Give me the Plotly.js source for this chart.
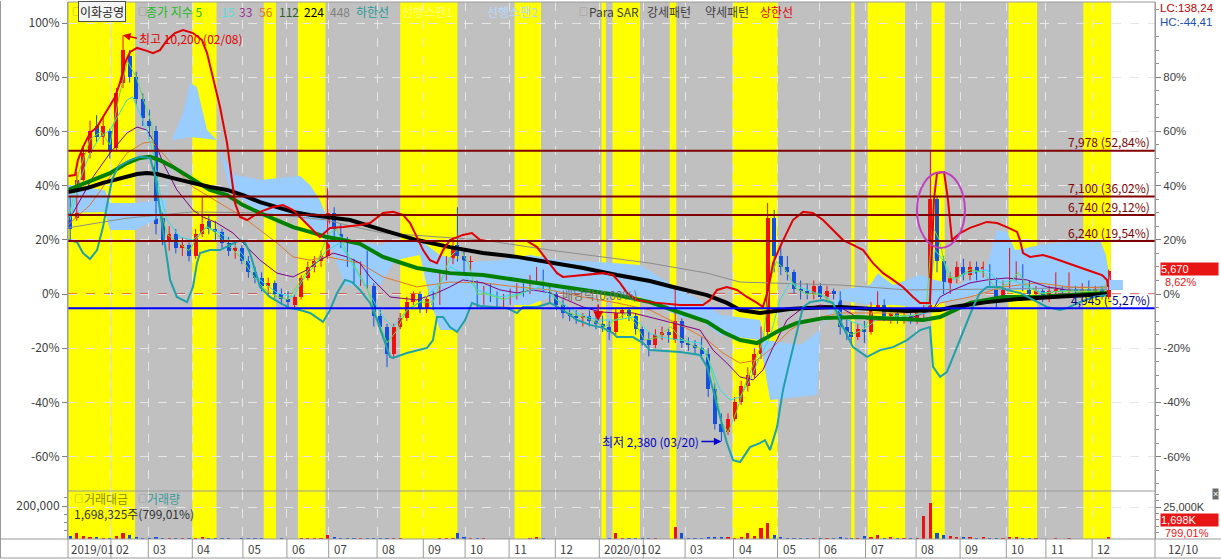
<!DOCTYPE html>
<html><head><meta charset="utf-8">
<script src="https://cdn.plot.ly/plotly-3.0.1.min.js"></script>
<style>html,body{margin:0;padding:0;background:#fff;}#chart{width:1221px;height:559px;}</style>
</head><body><div id="chart"></div>
<script>
// ================= DATA (x = trading-day index, y = % vs base 5,220) =================
const candleDay = [1,4,7,10,13,16,19,22,25,28,31,34,37,40,43,46,49,52,55,58,61,64,67,70,73,76,79,82,85,88,91,94,97,100,103,106,109,112,115,118,121,124,127,130,133,136,139,142,145,148,151,154,157,160,163,166,169,172,175,
177,180,183,186,189,192,195,198,201,204,207,210,213,216,219,222,225,228,231,234,237,240,243,246,249,252,255,258,261,264,267,270,273,276,279,282,285,288,291,294,297,300,303,306,309,312,315,318,321,324,327,330,333,336,339,342,345,348,351,354,
356,359,362,365,368,371,374,377,380,383,386,389,392,395,398,401,404,407,410,413,416,419,422,425,428,431,434,437,440,443,446,449,452,455,458,461,464,467,470,473];
const candleOpen = [33,28,42,52,62,58,60,54,78,88, 80,72,64,60,28,20,22,17,18,14, 22,27,24,23,19,16,17,12,8,6, 3,4,0,-2,-4,-1,6,10,12,14, 30,22,20,12,7,9,3,-8,-12,-22, -12,-9,-3,0,-5,-2,-3,7,12,18, 14,10,4,-3,2,-1,-3,-1,1,2, 1,6,7,3,0,-4,-7,-8,-9,-8, -10,-11,-12,-14,-7,-6,-8,-13,-17,-19, -15,-14,-17,-10,-18,-19,-20,-22,-35,-48, -51,-46,-40,-34,-30,-22,-14,28,14,10, 8,2,1,0,3,-1,1,0,-12,-14, -16,-13,-14,-5,-3,-8,-7,-9,-8,-9, -7,-5,35,12,3,6,10,7,10,7, 10,5,-1,3,6,10,3,0,1,-1, 1,2,1,2,1,2,1,2,-1];
const candleHigh = [36,45,55,64,66,65,61,76,95.5,90, 82,74,68,62,30,25,24,21,19,24, 36,29,27,24,21,19,18,14,10,8, 6,5,2,1,0,7,12,14,16,39, 32,26,21,13,12,16,4,-6,-11,-11, -7,-1,1,1,-1,1,8,14,21,32, 16,14,5,3,4,1,0,2,4,4, 7,10,9,4,1,-2,-5,-6,-7,-6, -7,-8,-10,-5,-5,-5,-7,-12,-14,-13, -12,-13,3,-9,-16,-17,-16,-20,-33,-44, -44,-38,-32,-27,-20,-12,33.6,31,18,14, 9,5,4,5,4,3,2,1,-9,-10, -11,-10,-3,1,-2,-5,-6,-6,-6,-6, -4,52.84,36,14,8,12,13,12,12,12, 11,6,5,17,12,11,5,3,2,3, 8,3,8,3,4,5,3,3,9];
const candleLow = [20,27,40,50,56,55,50,53,76,78, 70,62,58,22,18,16,15,14,12,13, 21,22,20,17,14,13,11,6,4,1, -1,-2,-4,-5,-5,-2,5,8,10,13, 20,17,10,4,3,2,-12,-14,-27,-24, -13,-10,-4,-7,-7,-6,-4,5,11,12, 7,8,-5,-4,-3,-5,-5,-4,-2,-1, 0,4,1,-3,-6,-9,-10,-11,-12,-12, -13,-14,-17,-15,-9,-10,-15,-19,-23,-20, -17,-18,-18,-20,-21,-22,-24,-38,-50,-54.4, -52,-47,-41,-36,-31,-24,-16,8,7,5, 0,-2,-2,-2,-2,-2,-2,-15,-17,-18, -17,-18,-15,-6,-10,-11,-11,-11,-11,-11, -9,-6,8,0,0,4,5,5,5,6, 3,-5,-2,2,5,1,-2,-3,-3,-3, 0,-1,0,-1,0,0,-1,-2,-2];
const candleClose = [24,42,52,60,58,62,53,74,90,80, 72,65,62,26,20,22,17,18,14,22, 26,24,23,19,16,17,12,8,6,3, 4,0,-2,-3,-1,6,10,12,14,30, 22,20,12,7,9,4,-8,-12,-22,-12, -9,-3,0,-5,-2,-4,7,12,17,14, 10,12,-3,2,-1,-3,-1,1,2,1, 6,7,3,0,-4,-7,-8,-9,-8,-10, -11,-12,-14,-7,-6,-8,-13,-17,-19,-15, -14,-15,-10,-18,-19,-20,-22,-35,-48,-51, -46,-40,-34,-30,-22,-15,28,14,10,8, 2,1,0,3,-1,1,0,-12,-14,-16, -13,-14,-5,-3,-8,-7,-9,-8,-9,-7, -5,35,12,3,6,10,7,10,7,10, 5,-1,3,6,10,3,0,1,-1,1, 2,1,2,1,2,1,2,-1,8.62];
const volumeK = [2500,4700,2000,1500,1200,900,1000,2500,4500,3000, 1500,1000,800,1800,700,600,500,500,400,600, 1700,500,400,400,400,300,400,500,400,400, 300,300,400,300,300,600,500,400,500,3000, 1500,700,500,400,400,1000,800,500,900,600, 400,300,300,300,300,300,600,700,900,5000, 1500,800,900,400,300,300,300,300,300,300, 600,1500,500,300,300,300,300,300,300,300, 300,300,400,4500,1000,400,500,500,600,400, 300,300,9400,4500,800,500,500,1200,1500,1500, 1200,1000,1500,4700,2000,8600,12500,3000,1500,1000, 800,600,500,1000,500,400,400,1200,800,600, 500,2000,1500,3500,800,1500,500,400,400,500, 18000,28000,4700,3000,2000,1500,1800,1500,1000,1200, 800,800,600,1500,1200,600,500,400,300,300, 600,300,500,300,300,300,300,300,1698];

const upperDay = [0,3.2,4.5,6.8,10,13.2,15.9,19.1,21.4,23.6,25.9,28.2,31.4,35.9,38.6,41.8,45,48.6,52.3,56.8,60.9,63.2,65.9,69.1,72.3,74.5,75.9,78.2,81.4,87.3,93.2,97.7,102.3,106.8,111.4,114.5,119.1,125,132.7,137.3,143.2,147.7,152.3,155.5,158.6,161.4,164.5,167.7,170.5,173.6,179.5,183.6,187.3,190.5,208.6,213.2,217.7,222.3,225,234.1,243.2,247.7,250.9,254.1,258.6,264.5,278.2,288.6,291.8,295,299.5,304.1,308.6,313.2,315.9,318.2,320.5,323.6,326.8,329.5,334.1,338.6,343.2,347.7,352.3,356.8,361.4,365.9,370.5,375,379.5,384.1,387.3,391.8,393.6,395,398.2,400,401.8,405.5,410,417.7,422.3,426.8,431.4,432.7,434.1,437.3,443.2,447.7,454.1,460,465.9,470,472.3,472.7];
const upperPct = [43.5,43.9,49.4,54.2,59.4,61.6,65.3,69.7,72.7,77.9,85.2,89.3,90.8,89.7,88.9,90,93.7,96.3,97.4,96.3,93.7,88.9,80.1,69,55.7,43.2,33.6,28.4,27.3,30.3,32.1,32.8,31,27.3,23.6,21,24.4,24.7,25.5,26.2,29.9,30.3,29.2,26.2,21,16.2,12.5,11.4,16.2,19.9,21.8,22.5,19.9,19.6,19.6,17.3,12.5,7.7,6.3,7,7.7,7,4.1,0.4,-2.2,-3,-4.1,-4.1,-2.2,1.5,2.6,1.5,-1.1,-3.3,-4.8,1.5,11.4,17.3,22.5,27.3,30.3,29.9,27.3,23.6,19.9,18.1,16.2,11.4,7.7,5.2,2.6,-1.1,-3.3,-3.3,34.7,44.6,45,34.7,19.9,22.5,24.4,26.6,26.2,24.7,22.9,19.9,15.1,13.7,14.4,13.3,11.4,9.6,8.1,7,5.2,2.6];

const lowerDay = [0,4.1,6.8,10,13.2,15.9,18.2,20,22.7,28.2,32.7,37.3,39.5,41.8,44.1,46.4,49.5,54.1,56.8,58.6,60,64.5,69.1,73.6,78.2,80.5,82.7,87.3,91.8,96.4,100.9,105.5,110,115.9,119.1,122.3,125.9,129.1,132.7,137.3,140.5,143.2,146.4,147.7,154.1,163.2,165.9,167.7,170.5,173.6,176.8,180.5,183.6,187.3,199.5,204.1,206.8,213.2,219.1,225,231.4,237.3,243.2,247.7,249.5,256.8,261.4,264.5,278.2,287.3,290.5,293.2,296.4,299.5,302.3,305.5,310,314.5,316.8,319.1,322.3,325,328.2,331.4,334.1,337.3,343.2,347.7,352.3,356.8,363.2,369.1,375,381.4,387.3,391.8,393.2,396.4,399.5,402.3,406.8,411.4,414.5,417.7,423.6,426.8,432.7,438.6,445,450.9,454.1,460,465.9,472.3];
const lowerPct = [19.9,19.2,15.1,12.9,16.2,24.7,34.7,42.1,46.9,49.4,50.6,50.2,43.9,31,16.2,5.2,-1.1,-3,2.6,11.4,15.1,16.2,16.2,18.1,19.9,18.8,15.1,2.6,-1.1,-3.3,-5.2,-5.9,-7,-10.3,-5.9,0.4,5.2,4.4,1.5,-3.3,-9.6,-15.9,-23.2,-23.6,-21.8,-19.9,-17,-8.5,-8.5,-12.2,-14,-9.6,-3.3,-4.4,-5.2,-7,-4.8,-4.8,-3.3,-5.9,-9.6,-11.4,-12.5,-14.4,-15.9,-15.9,-18.1,-20.7,-21.4,-22.5,-26.9,-35.4,-45.4,-55,-61.3,-62,-56.5,-55,-53.9,-57.6,-49.1,-35.4,-24.4,-13.3,-4.8,-3,-2.2,-3.3,-12.2,-19.6,-23.2,-20.7,-19.6,-17,-13.3,-12.2,-26.9,-30.6,-28.8,-23.2,-14.4,-4.8,0.4,2.6,2.6,1.5,0.4,-2.2,-4.8,-5.9,-5.2,-3,-1.1,-0.4];

const ma224Day = [0,8.6,15.9,23.6,31.4,35.9,40.5,49.5,56.8,64.5,72.3,79.5,87.3,95,102.3,110,117.7,128.2,143.2,158.6,173.6,188.6,204.1,219.1,234.1,249.5,264.5,275,290.5,299.5,305.5,314.5,320.5,328.2,335.9,350.9,365.9,381.4,396.4,402.3,417.7,432.7,447.7,463.2,472.3];
const ma224Pct = [37.6,39.1,41,42.8,44.3,44.6,44.3,42.4,41,39.5,38.4,36.5,33.9,32.1,30.3,29.2,28.4,27.3,23.6,19.9,17.3,15.1,13.7,11.8,9.6,7,4.8,2.6,-0.4,-3.3,-5.9,-7,-6.3,-5.5,-5.2,-4.8,-5.5,-6.3,-5.9,-4.8,-3,-1.8,-1.1,-0.4,0];
const ma112Day = [0,5.5,11.4,19.1,26.8,32.7,37.3,41.8,47.7,56.8,64.5,72.3,79.5,87.3,95,102.3,110,117.7,125,132.7,143.2,158.6,173.6,188.6,204.1,219.1,234.1,249.5,264.5,275,290.5,297.7,305.5,313.2,317.7,323.6,331.4,343.2,358.6,373.6,388.6,396.4,410,425,440.5,455.5,472.3];
const ma112Pct = [38.4,40.2,42.1,44.6,48.3,50.2,50.6,49.4,46.9,42.1,38.4,36.5,32.8,29.9,27.3,24.7,22.9,21,19.9,18.5,13.7,9.6,7.7,7,5.2,3.3,1.5,-0.4,-3,-5.9,-10.3,-14,-17,-18.1,-16.2,-13.3,-10.7,-8.9,-8.5,-8.9,-9.6,-8.5,-3.3,-1.1,-1.1,-0.4,0.4];
const ma448Day = [0,26.8,56.8,87.3,117.7,128.2,143.2,188.6,219.1,264.5,290.5,305.5,350.9,381.4,423.6,472.3];
const ma448Pct = [24.4,28,30.3,29.9,27.3,25.1,22.5,19.9,16.2,11.4,7.7,4.4,3.3,1.5,1.8,2.6];
const ma56Day = [0,10,19.1,26.8,34.1,38.2,41.8,49.5,56.8,64.5,72.3,79.5,87.3,95,102.3,110,117.7,125,132.7,143.2,158.6,173.6,188.6,204.1,219.1,234.1,249.5,264.5,282.7,290.5,297.7,305.5,313.2,320.5,328.2,335.9,350.9,365.9,381.4,393.2,396.4,410,425,440.5,455.5,472.3];
const ma56Pct = [25.5,32.8,43.2,52,55.7,56.1,53.1,45.8,39.5,35.8,32.1,28.4,23.6,18.8,13.7,12.5,13.7,12.5,11.4,6.3,2.6,4.4,4.1,2.6,1.5,-1.1,-3.3,-5.9,-13.3,-16.9,-21.8,-25.5,-24.4,-19.6,-13.3,-9.6,-7,-7,-7,-5.9,-3.3,-1.1,2.6,4.1,2.6,2.2];
const ma33Day = [0,5.5,11.4,19.1,26.8,31.4,35.9,40.5,43.2,49.5,56.8,61.4,67.7,75,81.4,87.3,95,102.3,108.6,114.5,120.5,126.8,132.7,137.3,146.4,158.6,167.7,173.6,179.5,188.6,196.4,204.1,211.4,219.1,226.8,234.1,241.8,249.5,256.8,264.5,275,287.3,293.2,299.5,305.5,311.4,315.9,320.5,326.8,332.7,341.8,350.9,358.6,365.9,375,384.1,393.2,396.4,402.3,410,417.7,426.8,435.9,445,454.1,472.3];
const ma33Pct = [26.6,34.7,43.2,52,59.4,61.6,60.5,54.2,48.3,38.4,31,28.4,26.2,22.5,17.3,12.5,7.7,6.3,8.9,12.5,15.1,13.7,11.4,6.3,-1.1,-2.2,0.4,2.6,5.2,4.1,1.5,0.4,1.5,0.4,-2.2,-4.8,-6.6,-7,-7,-8.5,-10.7,-13.3,-20.7,-25.5,-30.6,-31.7,-28,-19.6,-9.6,-5.9,-4.1,-4.8,-8.5,-9.6,-9.6,-8.5,-5.9,-1.1,1.5,4.1,5.2,5.9,5.2,2.6,1.5,1.5];
const ma15Day = [0.9,5.5,10,14.5,19.1,23.6,26.8,29.5,32.7,35.9,38.6,41.8,45,50.9,56.8,63.2,69.1,75,81.4,87.3,95,102.3,106.8,111.4,117.7,123.6,128.2,135.9,143.2,147.7,154.1,161.4,169.1,173.6,179.5,185.9,196.4,206.8,214.5,222.3,231.4,240.5,249.5,256.8,264.5,269.1,278.2,287.3,291.8,296.4,300.9,305.5,310,314.5,319.1,323.6,328.2,335.9,345,354.1,363.2,369.1,378.2,390.5,394.1,397.7,402.3,408.6,417.7,423.6,429.5,435.9,443.2,455.5,472.3];
const ma15Pct = [27.3,42.1,52,57.9,60.5,66.8,71.6,72.7,66.8,60.5,52,37.3,27.3,21,19.9,24.7,22.5,18.8,12.5,5.2,0.4,-1.1,5.2,10,16.2,18.8,12.5,1.5,-8.5,-12.2,-5.9,-2.2,4.1,10,7.7,1.5,-1.1,0.4,2.6,-2.2,-7,-9.6,-9.6,-8.5,-14.4,-15.9,-17,-18.1,-25.5,-35.4,-39.1,-38,-31.7,-23.2,-15.9,-2.2,4.1,1.5,-1.1,-9.6,-12.2,-8.5,-8.5,-7,16.2,12.5,5.2,7.7,8.9,4.1,5.2,2.6,0.4,1.5,1.5];
const ma5Day = [0,5,10,15,19,23,27,31,35,38,41,45,50,55,59,63,68,74,79,84,89,95,100,105,110,114,118,122,127,132,136,141,145,149,154,160,166,170,174,178,182,186,190,198,206,212,216,222,228,236,244,248,254,258,262,268,274,278,284,290,294,297,300,304,308,312,316,319,322,326,331,336,342,347,351,356,362,366,370,376,384,390,393,396,400,404,410,416,422,428,432,436,442,450,460,468,473];
const ma5Pct = [27,45,57,60,55,72,86,80,70,63,35,22,19,16,21,25,22,17,13,7,2,-1,-2,4,10,13,22,24,15,8,2,-10,-18,-14,-6,-3,-3,6,14,17,11,0,0,-2,0,4,5,-2,-7,-9,-12,-10,-7,-11,-17,-16,-12,-16,-19,-21,-33,-47,-51,-43,-33,-25,-17,5,12,9,2,0,0,-3,-12,-15,-13,-6,-5,-8,-8,-6,25,20,6,6,9,8,2,4,8,3,0,1,1,1,4];

const cloudTopDay = [0,16.8,19.1,30.5,44.1,47.7,52.3,55.5,58.6,61.4,63.2,67.7,71.4,75.9,87.3,105.5,110,114.5,119.1,125.9,141.8,148.6,160,169.1,182.7,196.4,210,223.6,241.8,260,278.2,287.3,296.4,314.5,316.8,332.7,341.8,350.9,364.5,368.2,375,387.3,394.1,405.5,417.7,422.3,426.8,430.5,441.8,460,469.1,471.8,473.6,479.5];
const cloudTopPct = [40.2,38.4,33.6,33.6,34.7,57.9,66.8,77.9,76.4,66.8,60.5,56.8,49.4,43.9,42.1,43.5,40.2,34.7,25.5,19.9,18.1,19.9,19.9,14.4,11.8,12.5,14.4,12.5,11.8,10.7,1.5,-2.2,-7.7,-9.6,-17,-18.8,-13.3,1.5,3.3,7.7,3.3,7,5.2,3.3,10.7,23.6,22.9,16.2,18.1,19.9,19.9,14.4,5.2,5.2];
const cloudBotDay = [0,16.8,19.1,30.5,44.1,47.7,55.5,67.7,73.6,87.3,105.5,119.1,125.9,141.8,148.6,160,164.5,169.1,178.2,182.7,210,223.6,241.8,260,278.2,287.3,296.4,314.5,319.1,340.5,341.8,350.9,364.5,375,387.3,405.5,417.7,441.8,460,473.6,479.5];
const cloudBotPct = [29.9,30.3,23.6,23.6,29.2,56.8,57.9,56.8,38.4,29.9,28,18.1,3.3,3.3,12.5,14.4,-2.2,-13.3,-13.3,-4.1,-4.1,0.4,0.4,-1.1,-8.5,-9.6,-15.1,-17,-39.1,-37.3,-13.3,-2.2,-4.1,-4.1,-4.8,-2.2,1.5,1.5,2.2,1.5,1.5];

const monthStartDay = [0,19.5,36.5,56.5,79.5,99.5,118.5,140.5,161.5,180.5,200.5,221.5,241.5,261.5,280.5,302.5,322.5,341.5,362.5,385.5,405.5,426.5,444.5,465.5];
const monthLabel = ['2019/01','02','03','04','05','06','07','08','09','10','11','12','2020/01','02','03','04','05','06','07','08','09','10','11','12'];
const patternEndDay = 474;
const strongPatternStart = [0,56.5,89,104.5,151,203,242.5,247.5,273.5,302,356,363.5,392.5,427.5,461.5];
const strongPatternEnd   = [30.5,67.5,94.5,117,177,215,244.5,260,276.5,322.5,357.5,380.5,398.5,440.5,474];
const levelPrice = [7978,7100,6740,6240];
const levelPct = [52.84,36.02,29.12,19.54];
const supportPrice = 4945, supportPct = -5.27;
const exDivDay = 241, exDivLevel = -10;
const lastPrice = '5,670', lastPct = 8.62;

// ================= BUILD =================
const FONT = '"Noto Sans CJK KR","Noto Sans",sans-serif';
const NUMFONT = '"Liberation Sans",Arial,sans-serif';
const PL=68, PW=1087, PB=539, PH=537;
const pxX = p => (p-PL)/PW;
const pxY = p => (PB-p)/PH;
const RED='#ee1111', BLUE='#1450e0';
const VOLTOP = (PB-491)/PH;

const upIdx=[], dnIdx=[];
candleDay.forEach((d,i)=>{ (candleClose[i]>=candleOpen[i]?upIdx:dnIdx).push(i); });
function body(ids,color){return {type:'bar',x:ids.map(i=>candleDay[i]),base:ids.map(i=>Math.min(candleOpen[i],candleClose[i])),y:ids.map(i=>Math.max(Math.abs(candleClose[i]-candleOpen[i]),0.5)),width:1.8,marker:{color:color,line:{width:0}},xaxis:'x',yaxis:'y',hoverinfo:'skip',showlegend:false};}
function wick(ids,color){const x=[],y=[];ids.forEach(i=>{x.push(candleDay[i],candleDay[i],null);y.push(candleLow[i],candleHigh[i],null);});return {type:'scatter',mode:'lines',x:x,y:y,line:{color:color,width:1},xaxis:'x',yaxis:'y',hoverinfo:'skip',showlegend:false};}
function line(x,y,color,w){return {type:'scatter',mode:'lines',x:x,y:y,line:{color:color,width:w},xaxis:'x',yaxis:'y',hoverinfo:'skip',showlegend:false};}
function vol(ids,color){return {type:'bar',x:ids.map(i=>candleDay[i]),y:ids.map(i=>volumeK[i]),width:1.4,marker:{color:color,line:{width:0}},xaxis:'x',yaxis:'y3',hoverinfo:'skip',showlegend:false};}

const cloud = {type:'scatter',mode:'lines',x:cloudTopDay.concat(cloudBotDay.slice().reverse()),y:cloudTopPct.concat(cloudBotPct.slice().reverse()),fill:'toself',fillcolor:'#99ccff',line:{width:0,color:'#99ccff'},xaxis:'x',yaxis:'y',hoverinfo:'skip',showlegend:false};

const traces = [
  cloud,
  wick(upIdx,RED), wick(dnIdx,BLUE), body(upIdx,RED), body(dnIdx,BLUE),
  line(ma448Day,ma448Pct,'#8c8c8c',1),
  line(ma56Day,ma56Pct,'#e07830',1),
  line(ma33Day,ma33Pct,'#800080',1),
  line(ma15Day,ma15Pct,'#33dddd',1),
  line(ma5Day,ma5Pct,'#66dd44',1),
  line(ma112Day,ma112Pct,'#008000',4),
  line(ma224Day,ma224Pct,'#000000',4),
  line(lowerDay,lowerPct,'#20a0a8',2),
  line(upperDay,upperPct,'#e00000',2),
  vol(upIdx,RED), vol(dnIdx,BLUE),
  {type:'scatter',mode:'markers',x:[0],y:[0],marker:{opacity:0},xaxis:'x',yaxis:'y2',hoverinfo:'skip',showlegend:false},
  {type:'scatter',mode:'markers',x:[0],y:[0],marker:{opacity:0},xaxis:'x',yaxis:'y4',hoverinfo:'skip',showlegend:false}
];

const shapes = [];
shapes.push({type:'rect',xref:'x',yref:'paper',x0:0,x1:patternEndDay,y0:0,y1:1,fillcolor:'#c0c0c0',line:{width:0},layer:'below'});
strongPatternStart.forEach((s,i)=>shapes.push({type:'rect',xref:'x',yref:'paper',x0:s,x1:strongPatternEnd[i],y0:0,y1:1,fillcolor:'#ffff00',line:{width:0},layer:'below'}));
shapes.push({type:'line',xref:'x',yref:'paper',x0:monthStartDay[1],x1:monthStartDay[1],y0:0,y1:1,line:{color:'#d8d8d8',width:1},layer:'below'});
shapes.push({type:'line',xref:'paper',yref:'y',x0:0,x1:1,y0:0,y1:0,line:{color:'#e00000',width:1,dash:'dash'},layer:'between'});
levelPct.forEach(v=>shapes.push({type:'line',xref:'paper',yref:'y',x0:0,x1:1,y0:v,y1:v,line:{color:'#800000',width:2},layer:'above'}));
shapes.push({type:'line',xref:'paper',yref:'y',x0:0,x1:1,y0:supportPct,y1:supportPct,line:{color:'#0000ff',width:2},layer:'above'});
shapes.push({type:'circle',xref:'x',yref:'y',x0:385.9,x1:407.7,y0:17,y1:45,line:{color:'#c040c0',width:2},layer:'above'});
// frames
const G='#9a9a9a';
shapes.push({type:'line',xref:'paper',yref:'paper',x0:0,x1:1,y0:1,y1:1,line:{color:G,width:1}});
shapes.push({type:'line',xref:'paper',yref:'paper',x0:0,x1:1,y0:VOLTOP,y1:VOLTOP,line:{color:G,width:1}});
shapes.push({type:'line',xref:'paper',yref:'paper',x0:pxX(0),x1:pxX(1221),y0:0,y1:0,line:{color:G,width:1}});
shapes.push({type:'line',xref:'paper',yref:'paper',x0:pxX(0),x1:pxX(1221),y0:pxY(558),y1:pxY(558),line:{color:G,width:1}});
shapes.push({type:'line',xref:'paper',yref:'paper',x0:pxX(0.5),x1:pxX(0.5),y0:pxY(558),y1:pxY(1),line:{color:G,width:1}});
shapes.push({type:'line',xref:'paper',yref:'paper',x0:0,x1:0,y0:pxY(558),y1:1,line:{color:G,width:1}});
shapes.push({type:'line',xref:'paper',yref:'paper',x0:1,x1:1,y0:pxY(558),y1:1,line:{color:G,width:1}});
monthStartDay.forEach((d,i)=>{ if(i>0) shapes.push({type:'line',xref:'x',yref:'paper',x0:d,x1:d,y0:pxY(558),y1:0,line:{color:G,width:1}}); });

const ann = [];
const T = (text,px,py,color,size,extra,fam)=>Object.assign({text:text,xref:'paper',yref:'paper',x:pxX(px),y:pxY(py),xanchor:'left',yanchor:'middle',showarrow:false,font:{family:fam||FONT,size:size||12,color:color}},extra||{});
monthStartDay.forEach((d,i)=>ann.push({text:monthLabel[i],xref:'x',yref:'paper',x:d,y:pxY(549),xanchor:'left',yanchor:'middle',xshift:i===0?1:3,showarrow:false,font:{family:FONT,size:11.5,color:'#404040'}}));
ann.push(T('12/10',1166,549,'#404040',11.5));
// top legend
const leg = [['□',70,'#808080',9],['□',136,'#808080',9],['종가 지수 5',144,'#22bb22'],['15',219,'#55dddd'],['33',237,'#993399'],['56',257,'#dd7733'],['112',277,'#2f5f2f'],['224',302,'#000000'],['448',328,'#808080'],['하한선',354,'#1f9a9a'],['선행스팬1',400,'#ffff80'],['선행스팬2',485,'#b8d8ff'],['□',577,'#808080',9],['Para SAR',587,'#404040'],['강세패턴',645,'#404040'],['약세패턴',703,'#404040'],['상한선',758,'#e00000']];
leg.forEach(l=>ann.push(T(l[0],l[1],12,l[2],l[3])));
ann.push(T('이화공영',78,12,'#202020',12,{bgcolor:'#f4f4f4',bordercolor:'#505050',borderwidth:1,borderpad:1}));
// volume legend
ann.push(T('□',72,498,'#808080',9)); ann.push(T('거래대금',82,498,'#8a8a00'));
ann.push(T('□',136,498,'#808080',9)); ann.push(T('거래량',145,498,'#3a9a9a'));
ann.push(T('1,698,325주(799,01%)',72,513,'#303030'));
// right side (number labels in a compact font)
ann.push(T('LC:138,24',1158,8,'#c00000',11.5,null,NUMFONT));
ann.push(T('HC:-44,41',1158,22,'#2050b0',11.5,null,NUMFONT));
ann.push(T(lastPrice,1160,268.5,'#ffffff',11,{bgcolor:'#e81515',width:57,align:'left',borderpad:0},NUMFONT));
ann.push(T(String(lastPct).replace('.',',')+'%',1163,282,'#e81515',11,null,NUMFONT));
ann.push(T('1,698K',1160,520,'#ffffff',11,{bgcolor:'#e81515',width:57,align:'left',borderpad:0},NUMFONT));
ann.push(T('799,01%',1163,533,'#e81515',11,null,NUMFONT));
ann.push(T('×',1212,494,'#ffffff',9,{bgcolor:'#6a6a6a',borderpad:0},NUMFONT));
// level labels
const fmtPct = v => v.toFixed(2).replace('.',',')+'%';
const fmtPrice = v => v.toLocaleString('en-US');
levelPct.forEach((v,i)=>ann.push({text:fmtPrice(levelPrice[i])+' ('+fmtPct(v)+')',xref:'paper',yref:'y',x:pxX(1152),y:v,yshift:9,xanchor:'right',yanchor:'middle',showarrow:false,font:{family:FONT,size:12,color:'#800000'}}));
ann.push({text:fmtPrice(supportPrice)+' ('+fmtPct(supportPct)+')',xref:'paper',yref:'y',x:pxX(1152),y:supportPct,yshift:9,xanchor:'right',yanchor:'middle',showarrow:false,font:{family:FONT,size:12,color:'#000080'}});
// high / low
let hi=0, lo=0; candleHigh.forEach((v,i)=>{if(v>candleHigh[hi])hi=i;}); candleLow.forEach((v,i)=>{if(v<candleLow[lo])lo=i;});
ann.push({text:'최고 10,200 (02/08)',xref:'x',yref:'y',x:candleDay[hi],y:candleHigh[hi],ax:14,ay:3,xanchor:'left',yanchor:'middle',showarrow:true,arrowhead:2,arrowsize:1,arrowwidth:1.5,arrowcolor:'#e00000',font:{family:FONT,size:12,color:'#e00000'}});
ann.push({text:'최저 2,380 (03/20)',xref:'x',yref:'y',x:candleDay[lo],y:candleLow[lo],ax:-20,ay:0,xanchor:'right',yanchor:'middle',showarrow:true,arrowhead:2,arrowsize:1,arrowwidth:1.5,arrowcolor:'#0000d0',font:{family:FONT,size:12,color:'#0000c0'}});
ann.push({text:'배당락(0.00%)',xref:'x',yref:'y',x:223.6,y:0,xanchor:'left',yanchor:'middle',showarrow:false,font:{family:FONT,size:12,color:'#707070'}});
ann.push({text:'',xref:'x',yref:'y',x:exDivDay,y:exDivLevel,ax:0,ay:-18,showarrow:true,arrowhead:2,arrowsize:1.3,arrowwidth:1.5,arrowcolor:'#e00000'});

const minorMain=[]; for(let v=-70;v<=105;v+=5){ if(v%20!==0) minorMain.push(v); }
const tickFont = {family:FONT,size:12,color:'#404040'};
const tickFontR = {family:NUMFONT,size:11.5,color:'#404040'};
const layout = {
  width:1221,height:559,margin:{l:68,r:66,t:2,b:20},
  paper_bgcolor:'#ffffff',plot_bgcolor:'rgba(0,0,0,0)',
  font:{family:FONT,size:12,color:'#404040'},
  showlegend:false,barmode:'overlay',bargap:0,
  xaxis:{range:[0,PW/2.2],tickmode:'array',tickvals:monthStartDay,showticklabels:false,ticks:'',showgrid:true,gridcolor:'#e6e6e6',griddash:'dash',gridwidth:1,zeroline:false,showline:false,anchor:'y3',fixedrange:true},
  yaxis:{domain:[VOLTOP,1],range:[(294-491)/2.71,(294-2)/2.71],tickmode:'array',tickvals:[-60,-40,-20,0,20,40,60,80,100],ticktext:['-60%','-40%','-20%','0%','20%','40%','60%','80%','100%'],ticks:'outside',ticklen:5,tickcolor:'#808080',tickfont:tickFont,showgrid:true,gridcolor:'#e6e6e6',griddash:'dash',zeroline:false,showline:true,linecolor:G,fixedrange:true},
  yaxis2:{overlaying:'y',side:'right',range:[(294-491)/2.71,(294-2)/2.71],tickmode:'array',tickvals:[-60,-40,-20,0,20,40,60,80],ticktext:['-60%','-40%','-20%','0%','20%','40%','60%','80%'],ticks:'outside',ticklen:5,tickcolor:'#808080',tickfont:tickFontR,minor:{tickmode:'array',tickvals:minorMain,ticks:'outside',ticklen:3,tickcolor:'#909090',showgrid:false},showgrid:false,zeroline:false,showline:true,linecolor:G,fixedrange:true},
  yaxis3:{domain:[0,VOLTOP],anchor:'x',side:'right',range:[0,37500],tickmode:'array',tickvals:[25000],ticktext:['25,000K'],ticks:'outside',ticklen:5,tickcolor:'#808080',tickfont:{family:NUMFONT,size:11,color:'#404040'},minor:{tickmode:'array',tickvals:[5000,10000,15000,20000,30000,35000],ticks:'outside',ticklen:3,tickcolor:'#909090'},showgrid:true,gridcolor:'#e6e6e6',griddash:'dash',zeroline:false,showline:true,linecolor:G,fixedrange:true},
  yaxis4:{overlaying:'y3',side:'left',range:[0,290909],tickmode:'array',tickvals:[200000],ticktext:['200,000'],ticks:'outside',ticklen:5,tickcolor:'#808080',tickfont:tickFont,minor:{tickmode:'array',tickvals:[50000,100000,150000,250000],ticks:'outside',ticklen:3,tickcolor:'#909090'},showgrid:false,zeroline:false,showline:true,linecolor:G,fixedrange:true},
  shapes:shapes,annotations:ann
};
Plotly.newPlot('chart',traces,layout,{staticPlot:true,displayModeBar:false});
</script></body></html>
